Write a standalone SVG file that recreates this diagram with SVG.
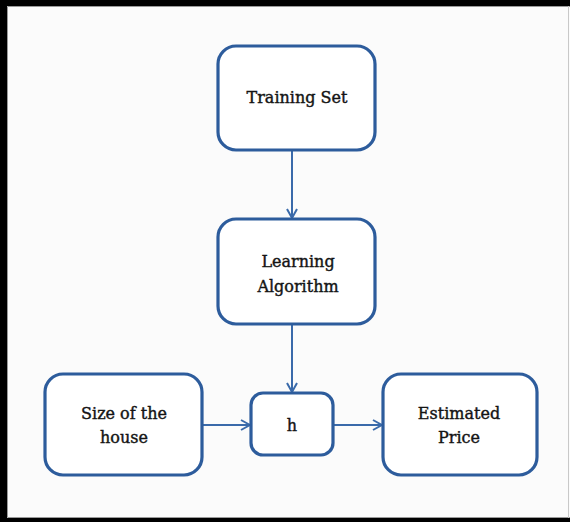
<svg xmlns="http://www.w3.org/2000/svg" width="570" height="522" viewBox="0 0 570 522">
  <style>
    .box { fill: #ffffff; stroke: #2d5c9c; stroke-width: 3.2; }
    .lbl { font-family: "DejaVu Serif", "Liberation Serif", serif; font-size: 16px; fill: #141414; stroke: #141414; stroke-width: 0.4; text-anchor: middle; }
    .edge { fill: none; stroke: #3a6aaa; stroke-width: 2; }
  </style>
  <defs>
    <marker id="chev" viewBox="0 0 12 12" refX="11" refY="6" markerWidth="12" markerHeight="12" markerUnits="userSpaceOnUse" orient="auto">
      <path d="M2,1 L11,6 L2,11" fill="none" stroke="#3a6aaa" stroke-width="2"/>
    </marker>
  </defs>

  <!-- page background and frame -->
  <rect x="0" y="0" width="570" height="522" fill="#fbfbfb"/>
  <rect x="0" y="0" width="570" height="6" fill="#000"/>
  <rect x="0" y="0" width="7" height="522" fill="#000"/>
  <rect x="0" y="518" width="570" height="4" fill="#000"/>
  <path d="M7.5,6.5 H570 M7.5,6.5 V517.5 H570" fill="none" stroke="#9a9a9a" stroke-width="1"/>
  <line x1="568.5" y1="6" x2="568.5" y2="518" stroke="#c8c8c8" stroke-width="1"/>

  <!-- connectors -->
  <g id="connectors">
    <line class="edge" x1="292" y1="151" x2="292" y2="218" marker-end="url(#chev)"/>
    <line class="edge" x1="292" y1="325" x2="292" y2="392" marker-end="url(#chev)"/>
    <line class="edge" x1="203" y1="425" x2="250" y2="425" marker-end="url(#chev)"/>
    <line class="edge" x1="334" y1="425" x2="382" y2="425" marker-end="url(#chev)"/>
  </g>

  <g id="training-set">
    <rect class="box" x="218" y="46" width="157" height="104" rx="18"/>
    <text class="lbl" x="297" y="103">Training Set</text>
  </g>

  <g id="learning-algorithm">
    <rect class="box" x="218" y="219" width="157" height="105" rx="18"/>
    <text class="lbl" x="298" y="267">Learning</text>
    <text class="lbl" x="298" y="292">Algorithm</text>
  </g>

  <g id="size-of-house">
    <rect class="box" x="45" y="374" width="157" height="101" rx="18"/>
    <text class="lbl" x="124" y="419">Size of the</text>
    <text class="lbl" x="124" y="443">house</text>
  </g>

  <g id="h">
    <rect class="box" x="251" y="393" width="82" height="62" rx="12"/>
    <text class="lbl" x="292" y="431">h</text>
  </g>

  <g id="estimated-price">
    <rect class="box" x="383" y="374" width="154" height="101" rx="18"/>
    <text class="lbl" x="459" y="419">Estimated</text>
    <text class="lbl" x="459" y="443">Price</text>
  </g>
</svg>
